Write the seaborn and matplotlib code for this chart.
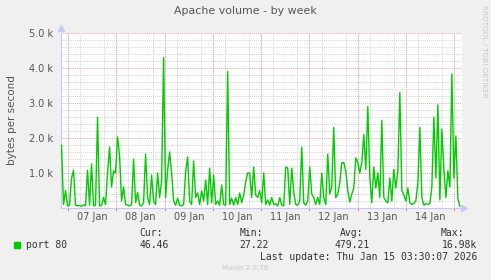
import numpy as np
import pandas as pd
import matplotlib
matplotlib.use("Agg")
import matplotlib.pyplot as plt
import matplotlib.dates as mdates
from matplotlib.ticker import MultipleLocator, FuncFormatter
import seaborn as sns

# ---- data (bytes per second, roughly hourly samples) ----
values = [
    1800, 100, 500, 60, 80, 850, 1080, 80, 60, 70,
    50, 90, 60, 1080, 80, 1260, 60, 80, 2600, 60,
    80, 300, 100, 1000, 1740, 600, 1060, 1000, 2030, 1490,
    200, 600, 100, 80, 60, 100, 1400, 150, 450, 80,
    60, 150, 1540, 300, 100, 940, 200, 100, 1000, 300,
    770, 4300, 300, 1080, 1600, 1000, 200, 80, 280, 80,
    60, 100, 1030, 1460, 200, 100, 1340, 300, 430, 100,
    490, 200, 800, 100, 1140, 150, 940, 100, 200, 80,
    660, 100, 80, 3900, 100, 280, 80, 300, 100, 430,
    150, 370, 740, 1000, 1000, 300, 1170, 370, 300, 500,
    150, 1000, 100, 230, 80, 300, 100, 120, 60, 300,
    80, 60, 1170, 1140, 100, 1140, 460, 100, 80, 200,
    1740, 150, 80, 200, 1170, 400, 300, 100, 300, 100,
    1000, 300, 100, 1540, 400, 600, 2300, 300, 400, 710,
    1290, 1300, 1060, 500, 170, 400, 570, 1430, 1300, 1000,
    1300, 2100, 1100, 2900, 860, 150, 1170, 570, 1000, 300,
    2500, 300, 200, 150, 860, 200, 1100, 570, 1060, 3300,
    500, 370, 200, 570, 150, 100, 130, 200, 710, 2300,
    300, 80, 130, 100, 130, 600, 2600, 860, 2950, 230,
    2250, 1100, 300, 1060, 600, 3830, 860, 2060, 260, 46,
]
series_start = "2026-01-06 20:45"
series_end = "2026-01-15 02:45"
legend_label = "port 80"
stat_headers = ["Cur:", "Min:", "Avg:", "Max:"]
stat_values = ["46.46", "27.22", "479.21", "16.98k"]
title = "Apache volume - by week"
ylabel = "bytes per second"
last_update = "Last update: Thu Jan 15 03:30:07 2026"

times = pd.date_range(series_start, series_end, periods=len(values))
df = pd.DataFrame({"time": times, "bps": values})

GREEN = "#00cc00"
BG = "#f0f0f0"
TXT = "#555555"
AXC = "#c8c8f0"

sns.set_theme(style="white")
plt.rcParams["font.family"] = ["DejaVu Sans"]

W, H = 491, 280
fig = plt.figure(figsize=(W / 100, H / 100), dpi=100, facecolor=BG)
L, R, T, B = 61, 462, 33, 208
ax = fig.add_axes([L / W, 1 - B / H, (R - L) / W, (B - T) / H])
ax.set_facecolor("white")

sns.lineplot(data=df, x="time", y="bps", ax=ax, color=GREEN, linewidth=1.0,
             legend=False, zorder=5)

ax.set_xlim(pd.Timestamp("2026-01-06 20:30"), pd.Timestamp("2026-01-15 03:48"))
ax.set_ylim(0, 5000)

# y grid
ax.yaxis.set_major_locator(MultipleLocator(1000))
ax.yaxis.set_minor_locator(MultipleLocator(200))
ax.yaxis.set_major_formatter(FuncFormatter(lambda v, p: "" if v == 0 else f"{v/1000:.1f} k"))
ax.grid(False)
ax.grid(axis="y", which="minor", color="#d4d4d4", linestyle=(0, (1, 1)), linewidth=0.7, zorder=1)
ax.grid(axis="y", which="major", color="#eba8a8", linestyle=(0, (1, 1)), linewidth=0.7, zorder=2)

# x: labels at noon, gray grid every 6 h, red lines at midnight
ax.xaxis.set_major_locator(mdates.HourLocator(byhour=[12]))
ax.xaxis.set_major_formatter(mdates.DateFormatter("%d Jan"))
ax.xaxis.set_minor_locator(mdates.HourLocator(byhour=[0, 6, 12, 18]))
ax.grid(axis="x", which="minor", color="#d4d4d4", linestyle=(0, (1, 1)), linewidth=0.7, zorder=1)
for d in pd.date_range("2026-01-07", "2026-01-15", freq="D"):
    ax.axvline(d, color="#eba8a8", linestyle=(0, (1, 1)), linewidth=0.7, zorder=2)
    ax.plot([d, d], [-0.012, 0.0], color="#e06060", linewidth=0.7,
            transform=ax.get_xaxis_transform(), clip_on=False)

ax.tick_params(axis="both", which="both", length=0, labelsize=7, labelcolor=TXT)
ax.tick_params(axis="x", pad=3)
ax.tick_params(axis="y", pad=6)
ax.set_xlabel("")
ax.set_ylabel("")

for s in ["top", "right"]:
    ax.spines[s].set_visible(False)
for s in ["left", "bottom"]:
    ax.spines[s].set_color(AXC)
    ax.spines[s].set_linewidth(0.8)
ax.plot([0], [1.03], marker="^", color=AXC, markersize=4, transform=ax.transAxes, clip_on=False)
ax.plot([1.006], [0], marker=">", color=AXC, markersize=4, transform=ax.transAxes, clip_on=False)

# texts
fig.text(245 / W, 1 - 11 / H, title, ha="center", va="center", fontsize=7.9, color=TXT)
fig.text(12 / W, 1 - 120 / H, ylabel, ha="center", va="center", rotation=90, fontsize=7.5, color=TXT)
fig.text(484 / W, 1 - 5 / H, "RRDTOOL / TOBI OETIKER", ha="center", va="top",
         rotation=270, fontsize=5.2, color="#c8c8c8")

mono = "DejaVu Sans Mono"
fig.patches.append(plt.Rectangle((14 / W, 1 - 248 / H), 6 / W, 6 / H,
                                 transform=fig.transFigure, color=GREEN))
fig.text(26 / W, 1 - 245 / H, legend_label, ha="left", va="center", family=mono, fontsize=7, color="#333333")
head_x = [139, 240, 340, 441]
val_right = [169, 269, 370, 477]
for hx, hd in zip(head_x, stat_headers):
    fig.text(hx / W, 1 - 233 / H, hd, ha="left", va="center", family=mono, fontsize=7, color="#333333")
for vx, vv in zip(val_right, stat_values):
    fig.text(vx / W, 1 - 245 / H, vv, ha="right", va="center", family=mono, fontsize=7, color="#333333")
fig.text(477 / W, 1 - 257 / H, last_update, ha="right", va="center", family=mono, fontsize=7, color="#333333")
fig.text(245 / W, 1 - 268 / H, "Munin 2.0.76", ha="center", va="center", fontsize=5, color="#c8c8c8")

fig.savefig("out.png", dpi=100, facecolor=BG)
